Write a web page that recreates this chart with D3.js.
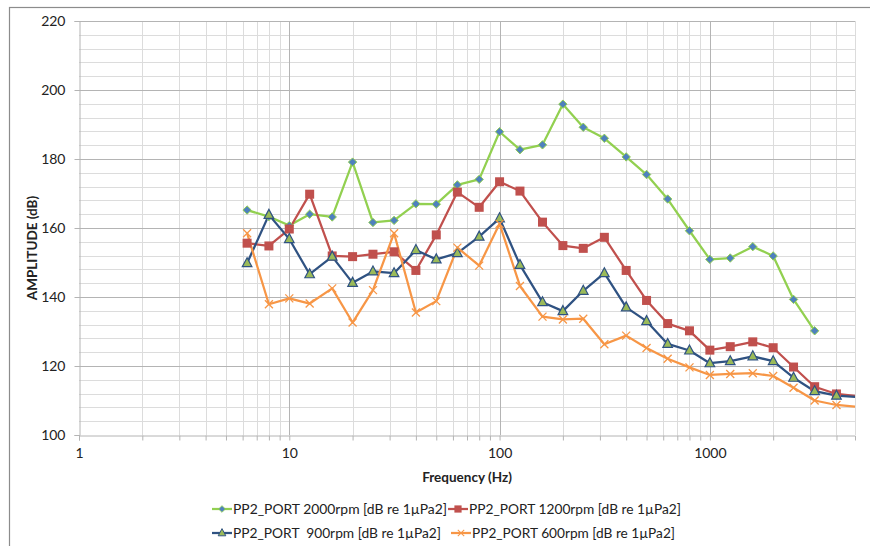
<!DOCTYPE html>
<meta charset="utf-8">
<style>
body { margin: 0; background: #fff; }
text { font-family: Lato, "Liberation Sans", sans-serif; fill: #222; }
.line { fill: none; stroke-width: 2.25px; stroke-linejoin: round; }
.legtext { white-space: pre; }
</style>
<body>
<script src="https://d3js.org/d3.v7.min.js"></script>
<script>

// 1/3 octave centre frequencies (Hz)
var freqs = [6.3, 8, 10, 12.5, 16, 20, 25, 31.5, 40, 50, 63, 80, 100, 125, 160, 200,
	250, 315, 400, 500, 630, 800, 1000, 1250, 1600, 2000, 2500, 3150, 4000, 5000];

var rpm2000 = [165.2, 163.3, 160.7, 164.0, 163.2, 179.1, 161.6, 162.2, 167.0, 166.9, 172.5, 174.1,
	187.9, 182.7, 184.1, 195.9, 189.2, 186.0, 180.6, 175.5, 168.4, 159.2, 150.9, 151.3, 154.6, 151.9,
	139.3, 130.2];
var rpm1200 = [155.6, 154.8, 159.7, 169.8, 151.9, 151.7, 152.4, 153.1, 147.7, 158.0, 170.4, 166.0,
	173.4, 170.7, 161.7, 154.9, 154.1, 157.3, 147.7, 139.0, 132.3, 130.2, 124.6, 125.6, 127.0, 125.3,
	119.7, 114.0, 111.9, 111.3];
var rpm900 = [149.8, 163.8, 156.8, 146.6, 151.7, 144.1, 147.4, 146.9, 153.6, 150.9, 152.7, 157.5,
	162.8, 149.3, 138.5, 135.9, 141.8, 146.9, 137.0, 133.0, 126.4, 124.5, 120.8, 121.4, 122.8, 121.4,
	116.6, 112.7, 111.4, 111.0];
var rpm600 = [158.5, 137.9, 139.6, 138.1, 142.5, 132.6, 142.0, 158.5, 135.5, 138.8, 154.3, 149.1,
	161.2, 143.2, 134.3, 133.5, 133.7, 126.3, 128.8, 125.2, 122.1, 119.6, 117.4, 117.7, 117.9, 117.1,
	113.7, 110.0, 108.7, 108.2];

var seriesNames = ["PP2_PORT 2000rpm [dB re 1\u00b5Pa2]", "PP2_PORT 1200rpm [dB re 1\u00b5Pa2]",
	"PP2_PORT  900rpm [dB re 1\u00b5Pa2]", "PP2_PORT 600rpm [dB re 1\u00b5Pa2]"];
var xTicks = [1, 10, 100, 1000];
var yTicks = [100, 120, 140, 160, 180, 200, 220];

var series = [
	{name: seriesNames[0], values: rpm2000, color: "#92d050", marker: "diamond"},
	{name: seriesNames[1], values: rpm1200, color: "#c0504d", marker: "square"},
	{name: seriesNames[2], values: rpm900, color: "#2f5282", marker: "triangle"},
	{name: seriesNames[3], values: rpm600, color: "#f79646", marker: "cross"}
];

var W = 870, H = 546;
var margin = {top: 21, left: 79, right: 15, bottom: 111};

var svg = d3.select("body").append("svg")
	.attr("width", W).attr("height", H);

// chart frame (runs off the right/bottom edge like the screenshot)
svg.append("rect")
	.attr("x", 9.5).attr("y", 7.5)
	.attr("width", W + 10).attr("height", H + 10)
	.attr("fill", "none").attr("stroke", "#8c8c8c").attr("stroke-width", 1.2);

var x = d3.scaleLog().domain([1, 4900]).range([margin.left, W - margin.right]);
var y = d3.scaleLinear().domain([100, 220]).range([H - margin.bottom, margin.top]);

var g = svg.append("g");

// minor grid
var minorX = [];
for (var k = 0; k < 4; k++)
	for (var m = 2; m < 10; m++) {
		var v = m * Math.pow(10, k);
		if (v <= 4900) minorX.push(v);
	}
var minorY = d3.range(104, 220, 4).filter(function(d) { return d % 20 != 0; });

g.selectAll(".vminor").data(minorX).enter().append("line")
	.attr("x1", function(d) { return Math.round(x(d)) + 0.5; })
	.attr("x2", function(d) { return Math.round(x(d)) + 0.5; })
	.attr("y1", y(220)).attr("y2", y(100))
	.attr("stroke", "#dcdcdc").attr("stroke-width", 1);

g.selectAll(".hminor").data(minorY).enter().append("line")
	.attr("x1", x(1)).attr("x2", x(4900))
	.attr("y1", function(d) { return Math.round(y(d)) + 0.5; })
	.attr("y2", function(d) { return Math.round(y(d)) + 0.5; })
	.attr("stroke", "#dcdcdc").attr("stroke-width", 1);

// major grid
g.selectAll(".vmajor").data(xTicks.slice(1)).enter().append("line")
	.attr("x1", function(d) { return Math.round(x(d)) + 0.5; })
	.attr("x2", function(d) { return Math.round(x(d)) + 0.5; })
	.attr("y1", y(220)).attr("y2", y(100))
	.attr("stroke", "#b4b4b4").attr("stroke-width", 1);

g.selectAll(".hmajor").data(yTicks.slice(1)).enter().append("line")
	.attr("x1", x(1)).attr("x2", x(4900))
	.attr("y1", function(d) { return Math.round(y(d)) + 0.5; })
	.attr("y2", function(d) { return Math.round(y(d)) + 0.5; })
	.attr("stroke", "#b4b4b4").attr("stroke-width", 1);

// right edge of plot area
g.append("line")
	.attr("x1", x(4900) + 0.5).attr("x2", x(4900) + 0.5)
	.attr("y1", y(220)).attr("y2", y(100))
	.attr("stroke", "#dcdcdc");

// axes
var yAxis = d3.axisLeft(y).tickValues(yTicks).tickSize(5).tickPadding(9);
var xAxis = d3.axisBottom(x).tickValues(minorX.concat(xTicks)).tickSize(5)
	.tickFormat(function(d) { return xTicks.indexOf(d) >= 0 ? d : ""; })
	.tickPadding(8);

var ya = svg.append("g").attr("transform", "translate(" + (x(1) + 0.5) + ",0)").call(yAxis);
var xa = svg.append("g").attr("transform", "translate(0," + (y(100) + 0.5) + ")").call(xAxis);
[ya, xa].forEach(function(a) {
	a.select(".domain").attr("stroke", "#b4b4b4");
	a.selectAll(".tick line").attr("stroke", "#b4b4b4");
	a.selectAll("text").style("font-family", "Lato, sans-serif").style("font-size", "14px").attr("fill", "#333");
});

svg.append("text")
	.attr("x", (x(1) + x(4900)) / 2).attr("y", 482)
	.attr("text-anchor", "middle")
	.style("font-size", "13.5px").style("font-weight", "bold")
	.text("Frequency (Hz)");

svg.append("text")
	.attr("transform", "translate(37,248) rotate(-90)")
	.attr("text-anchor", "middle")
	.style("font-size", "13.5px").style("font-weight", "bold")
	.text("AMPLITUDE (dB)");

// series
svg.append("clipPath").attr("id", "plotclip").append("rect")
	.attr("x", x(1)).attr("y", y(220) - 10)
	.attr("width", x(4900) - x(1)).attr("height", y(100) - y(220) + 20);

var plot = svg.append("g").attr("clip-path", "url(#plotclip)");

var line = d3.line()
	.x(function(d, i) { return x(freqs[i]); })
	.y(function(d) { return y(d); });

function drawMarker(sel, type, color) {
	if (type == "diamond") {
		sel.append("path").attr("d", "M0,-4.2L4.2,0L0,4.2L-4.2,0Z")
			.attr("fill", "#4f81bd").attr("stroke", color).attr("stroke-width", 1);
	} else if (type == "square") {
		sel.append("rect").attr("x", -4.5).attr("y", -4.5).attr("width", 9).attr("height", 9)
			.attr("fill", color);
	} else if (type == "triangle") {
		sel.append("path").attr("d", "M0,-5.5L4.8,3.5L-4.8,3.5Z")
			.attr("fill", "#9bbb59").attr("stroke", color).attr("stroke-width", 1.2);
	} else {
		sel.append("path").attr("d", "M-4,-4L4,4M-4,4L4,-4")
			.attr("stroke", color).attr("stroke-width", 1.3).attr("fill", "none");
	}
}

series.forEach(function(s) {
	plot.append("path").datum(s.values)
		.attr("class", "line")
		.attr("stroke", s.color)
		.attr("d", line);
});

series.forEach(function(s) {
	var pts = s.values.map(function(v, i) { return {f: freqs[i], v: v}; })
		.filter(function(d) { return d.f <= 4900; });
	var mk = plot.selectAll(null).data(pts).enter().append("g")
		.attr("transform", function(d) { return "translate(" + x(d.f) + "," + y(d.v) + ")"; });
	drawMarker(mk, s.marker, s.color);
});

// legend
var legPos = [[212, 509, 214], [448, 509, 212], [212, 533, 208], [451, 533, 203]];
series.forEach(function(s, i) {
	var p = legPos[i];
	var lg = svg.append("g").attr("transform", "translate(" + p[0] + "," + p[1] + ")");
	lg.append("line").attr("x1", 0).attr("x2", 20).attr("y1", 0).attr("y2", 0)
		.attr("stroke", s.color).attr("stroke-width", 2.25);
	var mk = lg.append("g").attr("transform", "translate(10,0) scale(0.8)");
	drawMarker(mk, s.marker, s.color);
	lg.append("text").attr("class", "legtext").attr("x", 21).attr("y", 4.5)
		.style("font-size", "13.5px")
		.attr("textLength", p[2]).attr("lengthAdjust", "spacingAndGlyphs")
		.text(s.name);
});

</script>
</body>
